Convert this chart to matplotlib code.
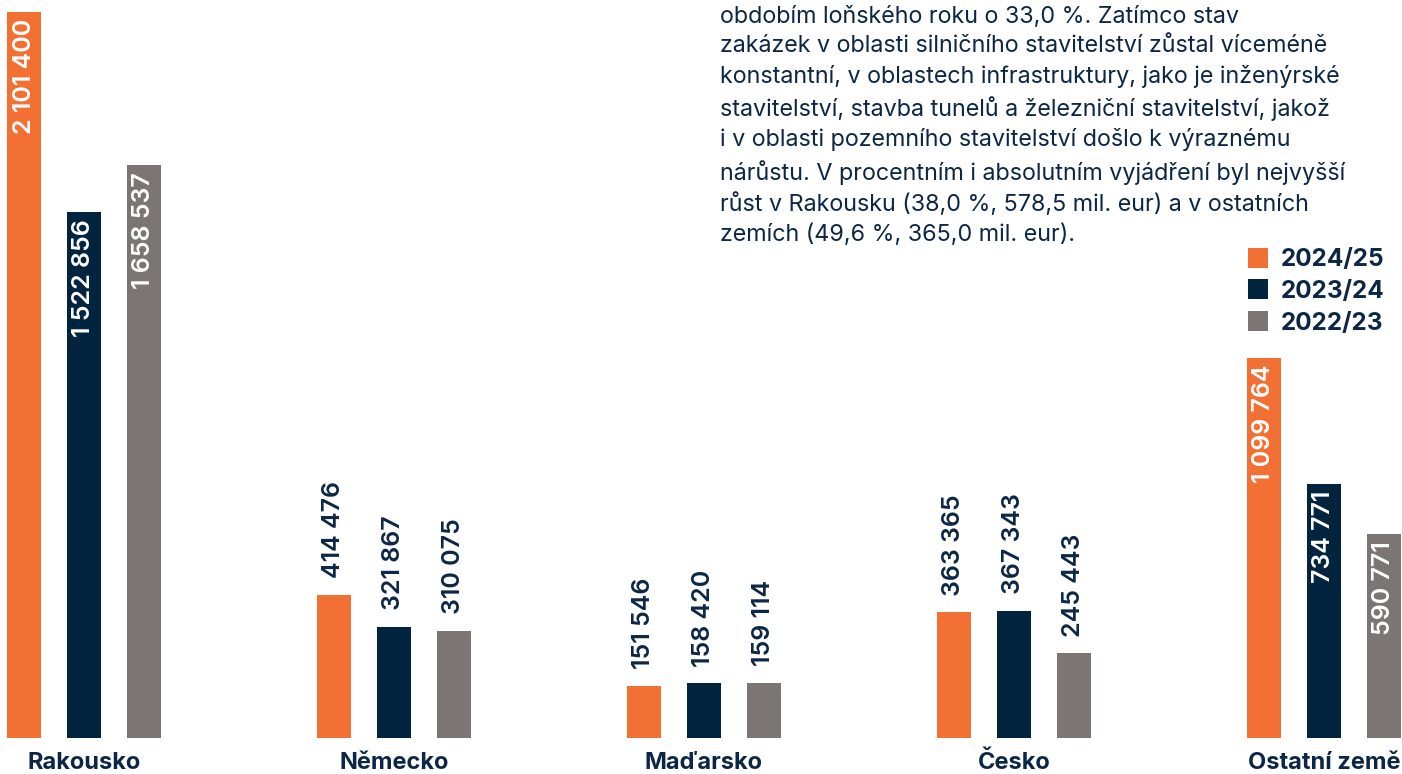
import numpy as np
from matplotlib import pyplot as plt
from matplotlib.lines import Line2D

plt.rcParams['font.family'] = ['Inter', 'DejaVu Sans']

# data
categories = ['Rakousko', 'Německo', 'Maďarsko', 'Česko', 'Ostatní země']
seasons = ['2024/25', '2023/24', '2022/23']
values_2425 = [2101400, 414476, 151546, 363365, 1099764]
values_2324 = [1522856, 321867, 158420, 367343, 734771]
values_2223 = [1658537, 310075, 159114, 245443, 590771]
labels_inside = [  # True = white label inside the bar
    [True, False, False, False, True],
    [True, False, False, False, True],
    [True, False, False, False, True],
]

paragraph = (
    "obdobím loňského roku o 33,0 %. Zatímco stav\n"
    "zakázek v oblasti silničního stavitelství zůstal víceméně\n"
    "konstantní, v oblastech infrastruktury, jako je inženýrské\n"
    "stavitelství, stavba tunelů a železniční stavitelství, jakož\n"
    "i v oblasti pozemního stavitelství došlo k výraznému\n"
    "nárůstu. V procentním i absolutním vyjádření byl nejvyšší\n"
    "růst v Rakousku (38,0 %, 578,5 mil. eur) a v ostatních\n"
    "zemích (49,6 %, 365,0 mil. eur)."
)

colors = ['#F37034', '#02243F', '#7B7673']
text_color = '#0B2745'

fig = plt.figure(figsize=(14.02, 7.74), dpi=100)
ax = fig.add_axes([0, 36 / 774, 1, 738 / 774])

x = np.arange(len(categories))
offsets = [-60 / 310, 0, 60 / 310]
width = 34 / 310
series = [values_2425, values_2324, values_2223]

for vals, off, col, inside in zip(series, offsets, colors, labels_inside):
    bars = ax.bar(x + off, vals, width=width, color=col, linewidth=0)
    for b, v, ins in zip(bars, vals, inside):
        lab = f"{v:,}".replace(",", " ")
        cx = b.get_x() + b.get_width() / 2
        if ins:
            ax.annotate(lab, (cx, v), xytext=(0, -5), textcoords='offset points',
                        rotation=90, ha='center', va='top', color='white',
                        fontsize=18, fontweight='semibold')
        else:
            ax.annotate(lab, (cx, v), xytext=(0, 12), textcoords='offset points',
                        rotation=90, ha='center', va='bottom', color=text_color,
                        fontsize=18, fontweight='semibold')

ax.set_xlim(-84 / 310, (1402 - 84) / 310)
ax.set_ylim(0, max(values_2425) * 738 / 726)
ax.set_xticks(x)
ax.set_xticklabels(categories, fontsize=17, fontweight='bold', color=text_color)
ax.tick_params(axis='x', length=0, pad=10)
ax.set_yticks([])
for s in ax.spines.values():
    s.set_visible(False)

fig.text(720 / 1402, 1 - 6 / 774, paragraph, ha='left', va='top', fontsize=16.8,
         color=text_color, linespacing=1.42)

handles = [Line2D([], [], marker='s', linestyle='none', markersize=14,
                  markerfacecolor=c, markeredgewidth=0) for c in colors]
fig.legend(handles, seasons, loc='upper left', bbox_to_anchor=(1235 / 1402, 1 - 236 / 774),
           frameon=False, borderpad=0, handlelength=0.9, handletextpad=0.5,
           labelspacing=0.36, prop={'size': 17.5, 'weight': 'bold'}, labelcolor=text_color)

plt.savefig("out.png", dpi=100)
plt.close()
